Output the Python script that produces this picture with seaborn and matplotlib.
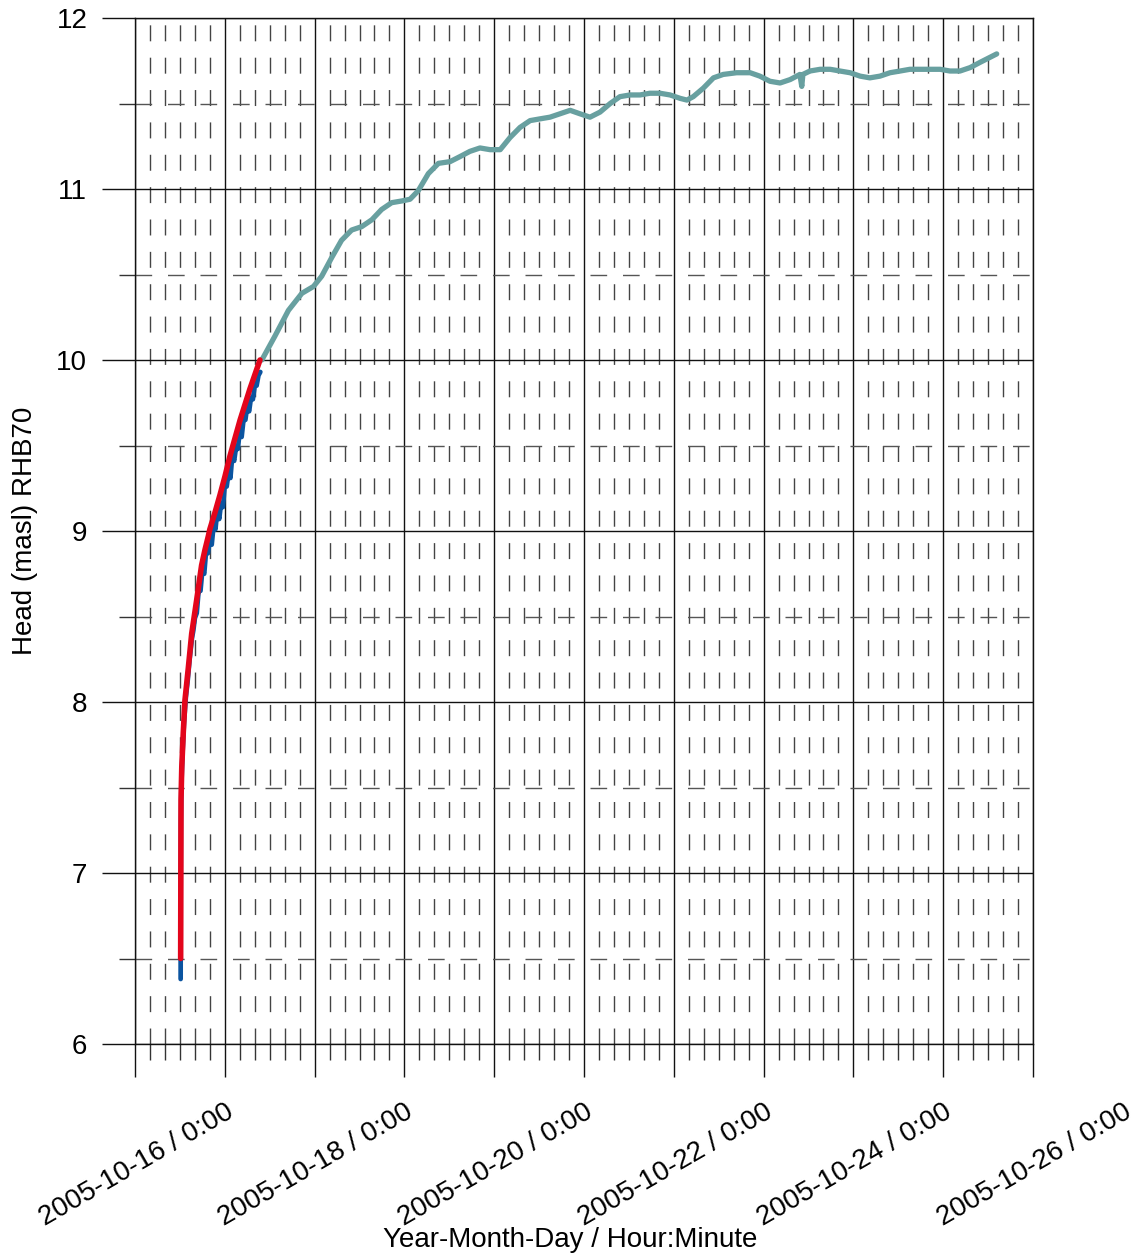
import numpy as np
import pandas as pd
import matplotlib
matplotlib.use("Agg")
import matplotlib.pyplot as plt
import matplotlib.dates as mdates
from matplotlib.ticker import MultipleLocator, NullFormatter
import seaborn as sns

# ---------------- data (hours since 2005-10-15 00:00, head in masl) ----------------
start = pd.Timestamp("2005-10-15 00:00")

blue_hours = [12.2, 12.22, 12.27, 12.4, 12.7, 13.1, 13.6, 14.1, 14.6, 15.2, 15.6,
              16.0, 16.5, 17.0, 17.5, 18.0, 18.5, 19.0, 19.5, 20.0, 20.5, 21.0, 21.5,
              22.0, 22.5, 23.0, 23.5, 24.0, 24.5, 25.0, 25.5, 26.0, 26.5, 27.0, 27.5,
              28.0, 28.5, 29.0, 29.5, 30.0, 30.5, 31.0, 31.5, 32.0, 32.5, 33.0, 33.5]
blue_head = [6.38, 6.90, 7.30, 7.52, 7.70, 7.88, 8.03, 8.13, 8.25, 8.37, 8.42,
             8.49, 8.52, 8.65, 8.65, 8.77, 8.75, 8.88, 8.87, 8.95, 8.92, 9.03, 9.01,
             9.12, 9.07, 9.16, 9.14, 9.27, 9.26, 9.34, 9.31, 9.44, 9.41, 9.49, 9.48,
             9.59, 9.55, 9.65, 9.65, 9.73, 9.70, 9.78, 9.77, 9.85, 9.85, 9.91, 9.93]

red_hours = [12.2, 12.25, 12.3, 12.5, 12.9, 13.35, 14.25, 15.15, 16.5, 17.8, 18.7,
             19.6, 20.0, 21.4, 22.7, 24.05, 25.4, 28.1, 30.7, 33.4]
red_head = [6.50, 7.00, 7.43, 7.62, 7.82, 8.01, 8.20, 8.40, 8.60, 8.80, 8.89,
            8.97, 9.01, 9.11, 9.21, 9.32, 9.44, 9.65, 9.83, 10.00]

teal_hours = [33.9, 37.4, 41.0, 44.6, 47.7, 49.9, 52.6, 55.2, 57.9, 60.6, 63.3, 65.9,
              68.6, 71.3, 73.5, 75.7, 78.4, 81.1, 84.2, 86.9, 89.5, 92.2, 94.9, 97.6,
              100.2, 102.9, 105.6, 108.2, 110.9, 113.6, 116.3, 118.9, 121.6, 124.3,
              127.0, 129.6, 132.3, 135.0, 137.6, 140.3, 143.0, 145.7, 147.5, 149.2,
              151.9, 154.6, 157.2, 160.8, 164.4, 167.0, 169.7, 172.4, 175.1, 177.7,
              178.2, 178.5, 180.4, 183.1, 185.8, 188.4, 191.1, 193.8, 196.4, 199.1,
              201.8, 204.5, 207.1, 209.8, 212.5, 215.2, 217.8, 220.5, 223.2, 225.8,
              228.5, 230.3]
teal_head = [10.00, 10.14, 10.29, 10.39, 10.43, 10.49, 10.60, 10.70, 10.76, 10.78, 10.82, 10.88,
             10.92, 10.93, 10.94, 10.99, 11.09, 11.15, 11.16, 11.19, 11.22, 11.24, 11.23, 11.23,
             11.30, 11.36, 11.40, 11.41, 11.42, 11.44, 11.46, 11.44, 11.42, 11.45,
             11.50, 11.54, 11.55, 11.55, 11.56, 11.56, 11.55, 11.53, 11.52, 11.54,
             11.59, 11.65, 11.67, 11.68, 11.68, 11.66, 11.63, 11.62, 11.64, 11.67,
             11.60, 11.67, 11.69, 11.70, 11.70, 11.69, 11.68, 11.66, 11.65, 11.66,
             11.68, 11.69, 11.70, 11.70, 11.70, 11.70, 11.69, 11.69, 11.71, 11.74,
             11.77, 11.79]

x_label_dates = ["2005-10-16", "2005-10-18", "2005-10-20", "2005-10-22", "2005-10-24", "2005-10-26"]
x_label_texts = ["2005-10-16 / 0:00", "2005-10-18 / 0:00", "2005-10-20 / 0:00",
                 "2005-10-22 / 0:00", "2005-10-24 / 0:00", "2005-10-26 / 0:00"]
y_ticks = [6, 7, 8, 9, 10, 11, 12]
y_tick_labels = ["6", "7", "8", "9", "10", "11", "12"]
x_limits = ["2005-10-15 00:00", "2005-10-25 00:00"]

def to_df(hours, head):
    return pd.DataFrame({"time": start + pd.to_timedelta(hours, unit="h"), "head": head})

teal_df = to_df(teal_hours, teal_head)
blue_df = to_df(blue_hours, blue_head)
red_df = to_df(red_hours, red_head)

# ---------------- style ----------------
sns.set_style("white")
plt.rcParams['font.family'] = ['Liberation Sans', 'DejaVu Sans']
plt.rcParams.update({"text.color": "black", "axes.labelcolor": "black",
                     "xtick.color": "black", "ytick.color": "black"})
FS = 20

fig = plt.figure(figsize=(11.35, 12.59), dpi=100)
ax = fig.add_axes([135 / 1135, 1 - 1044 / 1259, 898 / 1135, 1026 / 1259])

sns.lineplot(data=teal_df, x="time", y="head", ax=ax, color="#68a0a0", linewidth=3.8,
             estimator=None, sort=False, zorder=3)
sns.lineplot(data=blue_df, x="time", y="head", ax=ax, color="#0b54a0", linewidth=3.4,
             estimator=None, sort=False, zorder=4)
sns.lineplot(data=red_df, x="time", y="head", ax=ax, color="#e3051b", linewidth=4.0,
             estimator=None, sort=False, zorder=5)

ax.set_xlim(pd.Timestamp(x_limits[0]), pd.Timestamp(x_limits[1]))
ax.set_ylim(6, 12)

ax.xaxis.set_major_locator(mdates.DayLocator())
ax.xaxis.set_minor_locator(mdates.HourLocator(byhour=[4, 8, 12, 16, 20]))
ax.xaxis.set_major_formatter(NullFormatter())
ax.set_yticks(y_ticks)
ax.set_yticklabels(y_tick_labels)
ax.yaxis.set_minor_locator(MultipleLocator(0.5))

ax.set_axisbelow(True)
ax.grid(True, which="major", axis="both", color="#111111", linewidth=1.0, linestyle="-")
ax.xaxis.grid(True, which="minor", color="#444444", linewidth=1.0, linestyle=(0, (11.5, 11.8)))
ax.yaxis.grid(True, which="minor", color="#555555", linewidth=1.0, linestyle=(0, (12.0, 11.4)))

ax.tick_params(axis="x", which="major", direction="out", length=23.8, width=1, color="#111111",
               bottom=True, top=False, labelbottom=False)
ax.tick_params(axis="x", which="minor", direction="out", length=11.5, width=1, color="#333333",
               bottom=True, top=False)
ax.tick_params(axis="y", which="major", direction="out", length=23.8, width=1, color="#111111",
               left=True, right=False, labelsize=FS, pad=10.5, labelcolor="black")
ax.tick_params(axis="y", which="minor", direction="out", length=11.5, width=1, color="#333333",
               left=True, right=False)

for s in ax.spines.values():
    s.set_color("#111111")
    s.set_linewidth(1.0)

# date labels every two days (last one lies beyond the axis end, as in the original)
trans = ax.get_xaxis_transform()
for d, txt in zip(x_label_dates, x_label_texts):
    ax.text(mdates.date2num(pd.Timestamp(d)), -0.0536, txt, transform=trans,
            rotation=30, rotation_mode="anchor", ha="right", va="top",
            fontsize=FS, color="black", clip_on=False)

ax.set_xlabel("Year-Month-Day / Hour:Minute", fontsize=FS, color="black")
ax.xaxis.set_label_coords((570 - 135) / 898, -0.178)
ax.xaxis.label.set_va("top")
ax.set_ylabel("Head (masl) RHB70", fontsize=FS, color="black")
ax.yaxis.set_label_coords((38 - 135) / 898, 0.5)

fig.savefig("out.png", dpi=100)
